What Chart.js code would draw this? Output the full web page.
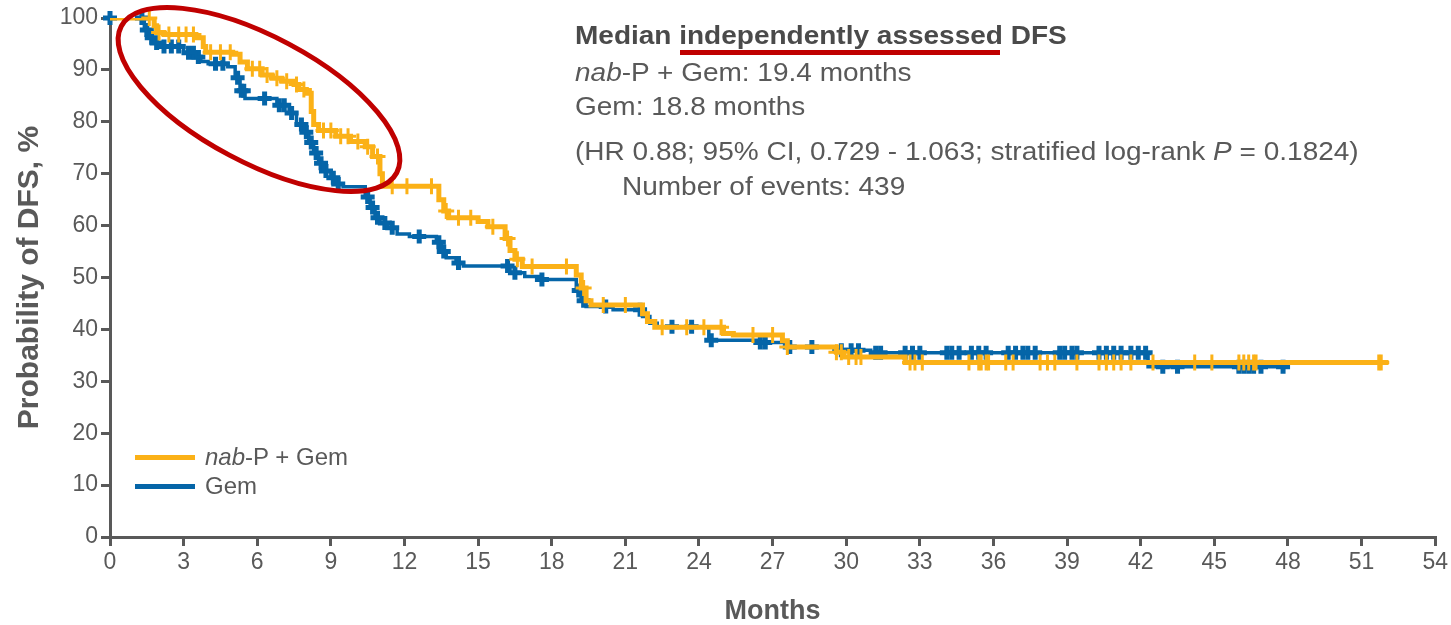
<!DOCTYPE html>
<html>
<head>
<meta charset="utf-8">
<title>Independently assessed DFS</title>
<script src="https://cdn.jsdelivr.net/npm/chart.js@4/dist/chart.umd.min.js"></script>
<style>
    html, body { margin: 0; padding: 0; background: #fff; }
    #wrap {
        position: relative;
        width: 1451px;
        height: 625px;
        overflow: hidden;
        font-family: 'Liberation Sans', Arial, sans-serif;
        color: #595959;
    }
    #wrap canvas { position: absolute; left: 0; top: 0; }
    .note {
        position: absolute;
        white-space: nowrap;
        font-size: 25px;
        line-height: 30px;
        transform: scaleX(1.12);
        transform-origin: 0 50%;
    }
    .note.head { font-weight: bold; color: #4a4a4a; }
    .mark { position: absolute; background: #c00000; }
    .key-line { position: absolute; width: 60px; height: 5px; }
    .key-text { position: absolute; white-space: nowrap; font-size: 24px; line-height: 28px; }
</style>
</head>
<body>
<div id="wrap">
    <canvas id="dfs-chart" width="1451" height="625"></canvas>

    <div class="note head" style="left:575px; top:20px;">Median independently assessed DFS</div>
    <div class="mark" style="left:680px; top:50px; width:320px; height:5px;"></div>
    <div class="note" style="left:575px; top:57px;"><i>nab</i>-P + Gem: 19.4 months</div>
    <div class="note" style="left:575px; top:91px;">Gem: 18.8 months</div>
    <div class="note" style="left:575px; top:136px;">(HR 0.88; 95% CI, 0.729 - 1.063; stratified log-rank <i>P</i> = 0.1824)</div>
    <div class="note" style="left:622px; top:171px;">Number of events: 439</div>

    <div class="key-line" style="left:135px; top:455px; background:#fbb117;"></div>
    <div class="key-text" style="left:205px; top:443px;"><i>nab</i>-P + Gem</div>
    <div class="key-line" style="left:135px; top:484px; background:#0565a8;"></div>
    <div class="key-text" style="left:205px; top:472px;">Gem</div>
</div>

<script>
// Kaplan-Meier steps: month of each drop and the survival (%) after it
const nabMonths = [0, 1.8, 1.9, 2.2, 3.5, 3.8, 3.9, 5.0, 5.3, 5.6,
    6.2, 6.6, 7.0, 7.5, 7.7, 8.0, 8.2, 8.3, 8.5, 9.2,
    9.8, 10.4, 10.7, 11.0, 11.1, 13.4, 13.6, 13.8, 15.0, 15.4,
    16.1, 16.3, 16.5, 16.8, 19.0, 19.2, 19.4, 19.6, 21.7, 21.9,
    22.2, 25.0, 25.4, 27.4, 27.6, 29.6, 29.9, 32.4, 52.1];
const nabSurv = [100, 98.5, 97.2, 96.8, 96.2, 94.5, 93.4, 93.0, 91.5, 90.2,
    89.0, 88.4, 87.8, 87.2, 86.2, 85.5, 82.0, 79.5, 78.3, 77.2,
    76.2, 75.2, 73.3, 70.0, 67.6, 65.0, 62.8, 61.5, 60.8, 59.8,
    57.5, 55.2, 53.5, 52.1, 50.5, 48.0, 45.5, 44.7, 43.0, 41.5,
    40.4, 39.2, 38.9, 37.8, 36.6, 35.6, 34.7, 33.6, 33.6];

const gemMonths = [0, 1.4, 1.6, 1.8, 2.0, 3.0, 3.5, 3.7, 4.0, 4.8,
    5.1, 5.3, 5.5, 6.8, 7.3, 7.6, 7.9, 8.1, 8.3, 8.5,
    8.7, 9.0, 9.2, 9.5, 10.4, 10.6, 10.8, 11.0, 11.3, 11.7,
    12.2, 13.3, 13.5, 13.7, 14.1, 14.4, 16.3, 16.9, 17.5, 19.0,
    19.2, 19.4, 20.5, 21.7, 22.0, 22.3, 24.4, 26.4, 27.5, 29.5,
    31.0, 42.3, 48.0];
const gemSurv = [100, 97.7, 96.2, 95.2, 94.5, 93.3, 92.5, 91.6, 91.2, 90.6,
    88.5, 86.0, 84.5, 83.2, 81.7, 79.5, 78.0, 76.0, 74.0, 72.0,
    70.5, 69.2, 68.0, 67.5, 65.5, 63.5, 61.5, 60.5, 59.6, 58.4,
    57.9, 56.8, 55.0, 53.8, 52.8, 52.2, 50.9, 50.2, 49.6, 47.5,
    45.5, 44.4, 43.8, 42.5, 41.2, 40.5, 37.9, 37.5, 36.6, 36.0,
    35.5, 32.8, 32.8];

// Censoring times (months)
const nabCensor = [1.6, 2.0, 2.4, 2.8, 3.1, 3.4, 4.1, 4.5, 4.9, 5.8,
    6.1, 6.4, 6.8, 7.2, 7.6, 7.9, 8.7, 9.0, 9.4, 9.7,
    10.1, 10.5, 10.9, 11.5, 12.1, 13.1, 13.7, 14.2, 14.7, 15.6,
    16.2, 16.6, 17.2, 18.6, 19.3, 20.1, 21.0, 22.5, 23.5, 24.2,
    24.9, 26.2, 27.0, 27.6, 29.6, 29.8, 30.1, 30.4, 30.6, 32.6,
    32.8, 33.1, 35.0, 35.4, 35.5, 35.7, 35.8, 36.5, 36.8, 37.9,
    38.2, 38.5, 39.4, 40.3, 40.6, 40.9, 41.2, 41.6, 42.5, 44.2,
    44.9, 46.0, 46.2, 46.4, 46.6, 46.7, 51.7, 51.8];
const gemCensor = [0, 1.3, 1.5, 1.7, 1.9, 2.2, 2.5, 2.8, 3.2, 3.4,
    3.6, 4.3, 4.6, 5.2, 5.35, 5.45, 6.3, 6.9, 7.1, 7.4,
    7.8, 8.0, 8.2, 8.4, 8.6, 8.8, 9.1, 9.3, 10.5, 10.7,
    10.9, 11.2, 11.5, 12.6, 13.4, 13.6, 14.2, 16.2, 16.5, 17.6,
    19.1, 19.3, 20.2, 21.6, 22.9, 23.7, 24.5, 26.5, 26.7, 27.7,
    28.6, 29.8, 30.2, 30.5, 31.2, 31.4, 32.4, 32.7, 33.0, 34.1,
    34.3, 34.6, 35.1, 35.4, 35.7, 36.6, 36.9, 37.2, 37.4, 37.7,
    38.7, 38.9, 39.2, 39.4, 40.3, 40.6, 40.9, 41.2, 41.6, 41.9,
    42.2, 42.9, 43.5, 46.0, 46.2, 46.4, 46.6, 46.9, 47.8];

const ORANGE = '#fbb117';
const BLUE = '#0565a8';
const AXIS = '#595959';

// level of a KM curve at time t
function stepAt(months, surv, t) {
    let level = surv[0];
    for (let i = 0; i < months.length; i++) {
        if (months[i] <= t) level = surv[i];
    }
    return level;
}

const toPoints = (months, surv) => months.map((m, i) => ({ x: m, y: surv[i] }));
const censorPoints = (times, months, surv) => times.map(t => ({ x: t, y: stepAt(months, surv, t) }));

// red highlight ellipse drawn over the early part of the curves
const highlight = {
    id: 'highlight',
    afterDatasetsDraw(chart) {
        const ctx = chart.ctx;
        ctx.save();
        ctx.beginPath();
        ctx.ellipse(259, 99.5, 156, 63, 28 * Math.PI / 180, 0, Math.PI * 2);
        ctx.strokeStyle = '#c00000';
        ctx.lineWidth = 5;
        ctx.stroke();
        ctx.restore();
    }
};

Chart.defaults.font.family = "'Liberation Sans', Arial, sans-serif";

new Chart(document.getElementById('dfs-chart'), {
    type: 'line',
    data: {
        datasets: [
            {
                label: 'nab-P + Gem',
                data: toPoints(nabMonths, nabSurv),
                borderColor: ORANGE,
                borderWidth: 5,
                stepped: 'before',
                pointRadius: 0,
                fill: false,
                order: 1
            },
            {
                type: 'scatter',
                label: 'nab-P + Gem censored',
                data: censorPoints(nabCensor, nabMonths, nabSurv),
                pointStyle: 'cross',
                pointRadius: 8,
                borderColor: ORANGE,
                pointBorderWidth: 3,
                clip: false,
                order: 2
            },
            {
                label: 'Gem',
                data: toPoints(gemMonths, gemSurv),
                borderColor: BLUE,
                borderWidth: 3.5,
                stepped: 'before',
                pointRadius: 0,
                fill: false,
                order: 3
            },
            {
                type: 'scatter',
                label: 'Gem censored',
                data: censorPoints(gemCensor, gemMonths, gemSurv),
                pointStyle: 'cross',
                pointRadius: 7,
                borderColor: BLUE,
                pointBorderWidth: 5,
                clip: false,
                order: 4
            }
        ]
    },
    options: {
        responsive: false,
        animation: false,
        layout: { padding: { top: 18, right: 14, left: 0, bottom: 0 } },
        plugins: {
            legend: { display: false },
            tooltip: { enabled: false }
        },
        scales: {
            x: {
                type: 'linear',
                min: 0,
                max: 54,
                ticks: { stepSize: 3, color: AXIS, font: { size: 23 }, padding: 3, maxRotation: 0, autoSkip: false },
                grid: { drawOnChartArea: false, drawTicks: true, tickLength: 9, color: AXIS, lineWidth: 3 },
                border: { color: AXIS, width: 3 },
                title: {
                    display: true,
                    text: 'Months',
                    color: AXIS,
                    font: { size: 27, weight: 'bold', lineHeight: 1 },
                    padding: { top: 0, bottom: 0 }
                },
                afterFit: (scale) => { scale.height = 88; }
            },
            y: {
                min: 0,
                max: 100,
                ticks: { stepSize: 10, color: AXIS, font: { size: 23 }, padding: 3 },
                grid: { drawOnChartArea: false, drawTicks: true, tickLength: 9, color: AXIS, lineWidth: 3 },
                border: { color: AXIS, width: 3 },
                title: {
                    display: true,
                    text: 'Probability of DFS, %',
                    color: AXIS,
                    font: { size: 30, weight: 'bold', lineHeight: 1.2 },
                    padding: { top: 12, bottom: 4 }
                },
                afterFit: (scale) => { scale.width = 110; }
            }
        }
    },
    plugins: [highlight]
});
</script>
</body>
</html>
